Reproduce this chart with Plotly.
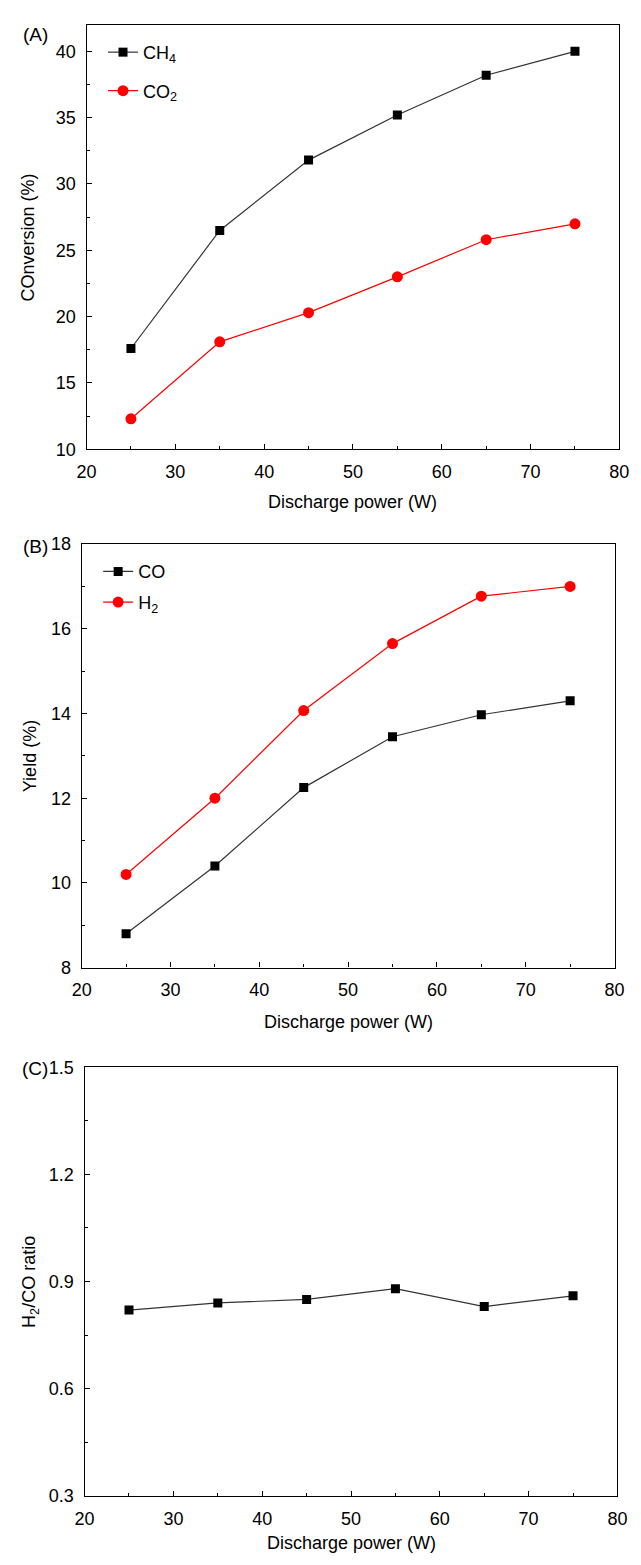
import plotly.graph_objects as go

# ---------------- data ----------------
power = [25, 35, 45, 55, 65, 75]
ch4_conv = [17.6, 26.5, 31.8, 35.2, 38.2, 40.0]
co2_conv = [12.3, 18.1, 20.3, 23.0, 25.8, 27.0]
co_yield = [8.8, 10.4, 12.25, 13.45, 13.97, 14.3]
h2_yield = [10.2, 12.0, 14.07, 15.65, 16.77, 17.0]
h2_co_ratio = [0.82, 0.84, 0.85, 0.88, 0.83, 0.86]

W, H = 641, 1565
FONT = "Liberation Sans, Arial, sans-serif"
BLACK_LINE = "#333333"
RED = "#ff0000"


def px(x):
    return x / W


def py(y):
    return 1 - y / H


fig = go.Figure()

sq = dict(symbol="square", size=9, color="black")
ci = dict(symbol="circle", size=11, color=RED)

fig.add_trace(go.Scatter(x=power, y=ch4_conv, mode="lines+markers", name="CH<sub>4</sub>",
                         line=dict(color=BLACK_LINE, width=1.2), marker=sq,
                         xaxis="x", yaxis="y", legend="legend"))
fig.add_trace(go.Scatter(x=power, y=co2_conv, mode="lines+markers", name="CO<sub>2</sub>",
                         line=dict(color=RED, width=1.2), marker=ci,
                         xaxis="x", yaxis="y", legend="legend2"))
fig.add_trace(go.Scatter(x=power, y=co_yield, mode="lines+markers", name="CO",
                         line=dict(color=BLACK_LINE, width=1.2), marker=sq,
                         xaxis="x2", yaxis="y2", legend="legend3"))
fig.add_trace(go.Scatter(x=power, y=h2_yield, mode="lines+markers", name="H<sub>2</sub>",
                         line=dict(color=RED, width=1.2), marker=ci,
                         xaxis="x2", yaxis="y2", legend="legend4"))
fig.add_trace(go.Scatter(x=power, y=h2_co_ratio, mode="lines+markers", name="H2/CO",
                         line=dict(color=BLACK_LINE, width=1.2), marker=sq,
                         xaxis="x3", yaxis="y3", showlegend=False))

tickfont = dict(family=FONT, size=18, color="black")


def xaxis(domain, anchor):
    return dict(domain=domain, anchor=anchor, range=[20, 80], tickvals=[20, 30, 40, 50, 60, 70, 80],
                ticks="inside", ticklen=5, tickwidth=1.2, tickcolor="black",
                minor=dict(ticks="inside", ticklen=3, tickwidth=1.2, tickcolor="black", dtick=5, showgrid=False),
                showline=True, linecolor="black", linewidth=1.3, mirror=True,
                showgrid=False, zeroline=False, tickfont=tickfont, ticklabelstandoff=6)


def yaxis(domain, anchor, rng, dtick, minor, fmt=None):
    d = dict(domain=domain, anchor=anchor, range=rng, dtick=dtick, tick0=rng[0],
             ticks="inside", ticklen=5, tickwidth=1.2, tickcolor="black",
             minor=dict(ticks="inside", ticklen=3, tickwidth=1.2, tickcolor="black", dtick=minor, showgrid=False),
             showline=True, linecolor="black", linewidth=1.3, mirror=True,
             showgrid=False, zeroline=False, tickfont=tickfont, ticklabelstandoff=6)
    if fmt:
        d["tickformat"] = fmt
    return d


A_x = [px(79), px(629)]
A_y = [py(445), py(15)]
B_x = [px(74), px(624)]
B_y = [py(970), py(541)]
C_x = [px(77), px(627)]
C_y = [py(1505), py(1071)]

legend_common = dict(font=dict(family=FONT, size=18, color="black"), bgcolor="rgba(0,0,0,0)",
                     xanchor="left", yanchor="middle", borderwidth=0, itemwidth=30)

fig.update_layout(
    width=W, height=H,
    margin=dict(l=0, r=0, t=0, b=0),
    paper_bgcolor="white", plot_bgcolor="white",
    xaxis=xaxis(A_x, "y"),
    yaxis=yaxis(A_y, "x", [10, 42], 5, 2.5),
    xaxis2=xaxis(B_x, "y2"),
    yaxis2=yaxis(B_y, "x2", [8, 18], 2, 1),
    xaxis3=xaxis(C_x, "y3"),
    yaxis3=yaxis(C_y, "x3", [0.3, 1.5], 0.3, 0.15, ".1f"),
    legend=dict(x=px(96), y=py(43), **legend_common),
    legend2=dict(x=px(96), y=py(82), **legend_common),
    legend3=dict(x=px(91), y=py(569), **legend_common),
    legend4=dict(x=px(91), y=py(600), **legend_common),
    showlegend=True,
)

ann_font = dict(family=FONT, size=18, color="black")
annotations = [
    # panel labels
    dict(text="(A)", x=px(11), y=py(25), xanchor="left", yanchor="middle", font_size=19),
    dict(text="(B)", x=px(11), y=py(543), xanchor="left", yanchor="middle", font_size=19),
    dict(text="(C)", x=px(10), y=py(1072), xanchor="left", yanchor="middle", font_size=19),
    # x titles
    dict(text="Discharge power (W)", x=(A_x[0] + A_x[1]) / 2, y=py(498), xanchor="center", yanchor="middle"),
    dict(text="Discharge power (W)", x=(B_x[0] + B_x[1]) / 2, y=py(1025), xanchor="center", yanchor="middle"),
    dict(text="Discharge power (W)", x=(C_x[0] + C_x[1]) / 2, y=py(1553), xanchor="center", yanchor="middle"),
    # y titles
    dict(text="COnversion (%)", x=px(19), y=(A_y[0] + A_y[1]) / 2, textangle=-90, xanchor="center", yanchor="middle"),
    dict(text="Yield (%)", x=px(20), y=(B_y[0] + B_y[1]) / 2, textangle=-90, xanchor="center", yanchor="middle"),
    dict(text="H<sub>2</sub>/CO ratio", x=px(21), y=(C_y[0] + C_y[1]) / 2, textangle=-90, xanchor="center", yanchor="middle"),
]
for a in annotations:
    fs = a.pop("font_size", 18)
    a.update(xref="paper", yref="paper", showarrow=False, font=dict(ann_font, size=fs))
fig.update_layout(annotations=annotations)

fig.write_html("out.html", config={"displayModeBar": False},
               post_script="document.body.style.margin='0';")
